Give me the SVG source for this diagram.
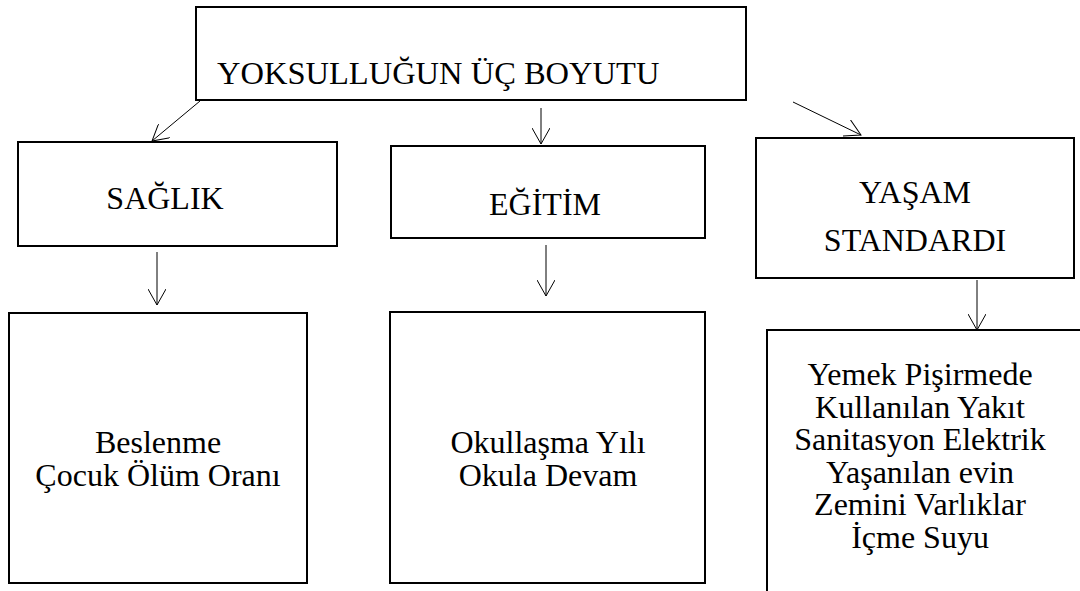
<svg xmlns="http://www.w3.org/2000/svg" width="1080" height="591" viewBox="0 0 1080 591">
<style>
.box{fill:#fff;stroke:#000;stroke-width:2}
.t{font-family:"Times New Roman","Liberation Serif","DejaVu Serif",serif;font-size:32px;fill:#000}
.c{text-anchor:middle}
.ln{stroke:#000;stroke-width:1;fill:none;marker-end:url(#ah)}
</style>
<defs>
<marker id="ah" markerUnits="userSpaceOnUse" viewBox="0 0 17 18" refX="16" refY="9" markerWidth="17" markerHeight="18" orient="auto">
<path d="M0,0 L16,9 L0,18" fill="none" stroke="#000" stroke-width="1"/>
</marker>
</defs>
<rect width="1080" height="591" fill="#fff"/>
<g id="connectors">
<line class="ln" x1="200" y1="101" x2="152" y2="141"/>
<line class="ln" x1="541" y1="108" x2="541" y2="144"/>
<line class="ln" x1="793" y1="102" x2="861" y2="135"/>
<line class="ln" x1="157" y1="252" x2="157" y2="305"/>
<line class="ln" x1="546" y1="245" x2="546" y2="296"/>
<line class="ln" x1="977" y1="280" x2="977" y2="330"/>
</g>
<g id="node-top">
<rect class="box" x="196" y="7" width="550" height="93"/>
<text class="t" x="217" y="84" style="font-size:32.5px">YOKSULLUĞUN ÜÇ BOYUTU</text>
</g>
<g id="node-saglik">
<rect class="box" x="18" y="142" width="319" height="104"/>
<text class="t c" x="165" y="209">SAĞLIK</text>
</g>
<g id="node-egitim">
<rect class="box" x="391" y="146" width="314" height="92"/>
<text class="t c" x="545" y="215">EĞİTİM</text>
</g>
<g id="node-yasam">
<rect class="box" x="756" y="138" width="318" height="140"/>
<text class="t c" x="915" y="203">YAŞAM</text>
<text class="t c" x="915" y="251">STANDARDI</text>
</g>
<g id="node-beslenme">
<rect class="box" x="9" y="313" width="298" height="270"/>
<text class="t c" x="158" y="453">Beslenme</text>
<text class="t c" x="158" y="486">Çocuk Ölüm Oranı</text>
</g>
<g id="node-okullasma">
<rect class="box" x="390" y="312" width="315" height="271"/>
<text class="t c" x="548" y="453">Okullaşma Yılı</text>
<text class="t c" x="548" y="486">Okula Devam</text>
</g>
<g id="node-yemek">
<rect class="box" x="767" y="330" width="330" height="300"/>
<text class="t c" x="920" y="385">Yemek Pişirmede</text>
<text class="t c" x="920" y="417.5">Kullanılan Yakıt</text>
<text class="t c" x="920" y="450">Sanitasyon Elektrik</text>
<text class="t c" x="920" y="482.5">Yaşanılan evin</text>
<text class="t c" x="920" y="515">Zemini Varlıklar</text>
<text class="t c" x="920" y="547.5">İçme Suyu</text>
</g>
</svg>
